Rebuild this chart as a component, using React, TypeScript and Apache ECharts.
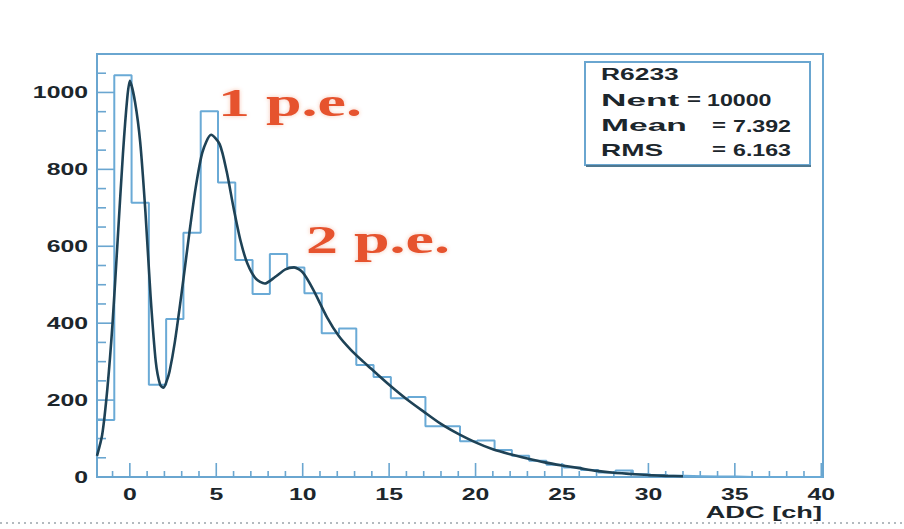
import React, { useEffect, useRef } from "react";
import * as echarts from "echarts";

// Axis ranges
const X_MIN = -1.9;
const X_MAX = 40.1;
const Y_MIN = 0;
const Y_MAX = 1100;

// Histogram: 42 bins of width 1 starting at -1.9
const binLow = -1.9;
const binWidth = 1;
const binCounts = [
  148, 1045, 713, 240, 411, 635, 951, 766, 564, 476, 580, 545, 478, 374, 386,
  291, 260, 205, 208, 132, 132, 93, 95, 70, 55, 42, 32, 25, 18, 12, 17, 7, 5, 3,
  2, 1, 1, 0, 0, 0, 0, 0,
];

// Fitted response function (ADC channel, entries)
const fitX = [
  -1.9, -1.6, -1.3, -1.0, -0.7, -0.4, -0.15, 0.0, 0.3, 0.6, 0.9, 1.2, 1.5, 1.75,
  1.95, 2.15, 2.3, 2.6, 3.0, 3.4, 3.8, 4.2, 4.7, 5.2, 5.6, 6.0, 6.4, 6.8, 7.3,
  7.8, 8.4, 9.0, 9.5, 10.0, 10.6, 11.4, 12.1, 12.8, 13.5, 14.0, 15.0, 16.0,
  17.0, 18.0, 19.0, 20.0, 21.0, 22.0, 23.0, 24.0, 25.0, 26.0, 27.0, 28.0, 29.0,
  30.0, 31.0, 32.0,
];
const fitY = [
  55, 110, 230, 400, 620, 840, 985, 1030, 975, 870, 690, 470, 300, 240, 232, 252,
  275, 350, 480, 620, 750, 845, 890, 865, 795, 700, 615, 555, 515, 503, 520, 540,
  545, 532, 488, 416, 366, 330, 300, 280, 240, 203, 170, 138, 112, 90, 72, 59,
  48, 38, 30, 23, 16, 11, 8, 5, 3, 2,
];

// Tick marks
const xMajorTicks = [0, 5, 10, 15, 20, 25, 30, 35, 40];
const xMinorTicks = [
  -1, 1, 2, 3, 4, 6, 7, 8, 9, 11, 12, 13, 14, 16, 17, 18, 19, 21, 22, 23, 24, 26,
  27, 28, 29, 31, 32, 33, 34, 36, 37, 38, 39,
];
const yMajorTicks = [0, 200, 400, 600, 800, 1000];
const yMinorTicks = [
  50, 100, 150, 250, 300, 350, 450, 500, 550, 650, 700, 750, 850, 900, 950, 1050,
];

// Statistics box
const statTitle = "R6233";
const statRows = [
  { name: "Nent", eq: "=", value: "10000" },
  { name: "Mean", eq: "=", value: "7.392" },
  { name: "RMS", eq: "=", value: "6.163" },
];

const peakLabels = ["1 p.e.", "2 p.e."];
const xTitle = "ADC [ch]";

const FRAME = "#6aa6d0";
const TEXT = "#1c262c";
const RED = "#e6532d";
const SANS = "'Liberation Sans', Arial, sans-serif";
const SERIF = "'Liberation Serif', 'Times New Roman', serif";
const STRETCH = 1.55;

export default function App() {
  const ref = useRef<HTMLDivElement>(null);

  useEffect(() => {
    if (!ref.current) return;
    const chart = echarts.init(ref.current, null, { renderer: "svg" });

    const histData: number[][] = binCounts.map((c, i) => [binLow + i * binWidth, c]);
    histData.push([binLow + binCounts.length * binWidth, binCounts[binCounts.length - 1]]);
    const fitData = fitX.map((x, i) => [x, fitY[i]]);

    const tickSeries = (
      data: number[][],
      axis: "x" | "y",
      len: number,
      withLabel: boolean
    ) => ({
      type: "custom",
      silent: true,
      z: 1,
      data,
      renderItem: (_p: any, api: any) => {
        const v = api.value(axis === "x" ? 0 : 1);
        const pt = api.coord(axis === "x" ? [v, Y_MIN] : [X_MIN, v]);
        const children: any[] = [
          {
            type: "line",
            shape:
              axis === "x"
                ? { x1: pt[0], y1: pt[1], x2: pt[0], y2: pt[1] - len }
                : { x1: pt[0], y1: pt[1], x2: pt[0] + len, y2: pt[1] },
            style: { stroke: FRAME, lineWidth: 1.6 },
          },
        ];
        if (withLabel) {
          children.push({
            type: "text",
            x: axis === "x" ? pt[0] : pt[0] - 9,
            y: axis === "x" ? pt[1] + 17 : pt[1],
            scaleX: STRETCH,
            style: {
              text: String(v),
              align: axis === "x" ? "center" : "right",
              verticalAlign: "middle",
              fontFamily: SANS,
              fontWeight: "bold",
              fontSize: 16,
              fill: TEXT,
            },
          });
        }
        return { type: "group", children };
      },
    });

    const statX = 601;
    const statLineY = [100, 126, 150];
    const nameStretch = [2.2, 2.1, 1.75];
    const eqX = [687, 712, 712];
    const valX = [707, 733, 733];

    const graphics: any[] = [
      {
        type: "rect",
        shape: { x: 585, y: 62, width: 225, height: 103 },
        style: { fill: "#ffffff", stroke: FRAME, lineWidth: 2 },
        z: 10,
      },
      {
        type: "line",
        shape: { x1: 586, y1: 166, x2: 811, y2: 166 },
        style: { stroke: "#4f7890", lineWidth: 2 },
        z: 10,
      },
      {
        type: "text",
        x: statX,
        y: 75,
        scaleX: 1.65,
        style: {
          text: statTitle,
          verticalAlign: "middle",
          fontFamily: SANS,
          fontWeight: "bold",
          fontSize: 16,
          fill: TEXT,
        },
        z: 11,
      },
      {
        type: "text",
        x: 822,
        y: 513,
        scaleX: 1.7,
        style: {
          text: xTitle,
          align: "right",
          verticalAlign: "middle",
          fontFamily: SANS,
          fontWeight: "bold",
          fontSize: 16,
          fill: TEXT,
        },
        z: 11,
      },
      {
        type: "text",
        x: 218,
        y: 103,
        scaleX: 1.6,
        style: {
          text: peakLabels[0],
          verticalAlign: "middle",
          fontFamily: SERIF,
          fontWeight: "bold",
          fontSize: 40,
          fill: RED,
          textShadowColor: "rgba(230,83,45,0.35)",
          textShadowBlur: 4,
        },
        z: 11,
      },
      {
        type: "text",
        x: 306,
        y: 240,
        scaleX: 1.6,
        style: {
          text: peakLabels[1],
          verticalAlign: "middle",
          fontFamily: SERIF,
          fontWeight: "bold",
          fontSize: 40,
          fill: RED,
          textShadowColor: "rgba(230,83,45,0.35)",
          textShadowBlur: 4,
        },
        z: 11,
      },
      {
        type: "line",
        shape: { x1: 0, y1: 523, x2: 904, y2: 523 },
        style: { stroke: "#9aa4aa", lineWidth: 1.5, lineDash: [2, 4] },
        z: 0,
      },
    ];

    statRows.forEach((row, i) => {
      const common = {
        verticalAlign: "middle",
        fontFamily: SANS,
        fontWeight: "bold",
        fontSize: 16,
        fill: TEXT,
      };
      graphics.push(
        { type: "text", x: statX, y: statLineY[i], scaleX: nameStretch[i], style: { ...common, text: row.name }, z: 11 },
        { type: "text", x: eqX[i], y: statLineY[i], scaleX: 1.5, style: { ...common, text: row.eq }, z: 11 },
        { type: "text", x: valX[i], y: statLineY[i], scaleX: 1.45, style: { ...common, text: row.value }, z: 11 }
      );
    });

    chart.setOption({
      animation: false,
      backgroundColor: "#ffffff",
      grid: {
        left: 97,
        top: 54,
        width: 726,
        height: 423,
        show: true,
        borderColor: FRAME,
        borderWidth: 2,
        backgroundColor: "transparent",
      },
      xAxis: {
        type: "value",
        min: X_MIN,
        max: X_MAX,
        axisLine: { show: false },
        axisTick: { show: false },
        axisLabel: { show: false },
        splitLine: { show: false },
      },
      yAxis: {
        type: "value",
        min: Y_MIN,
        max: Y_MAX,
        axisLine: { show: false },
        axisTick: { show: false },
        axisLabel: { show: false },
        splitLine: { show: false },
      },
      series: [
        tickSeries(xMajorTicks.map((v) => [v, Y_MIN]), "x", 14, true),
        tickSeries(xMinorTicks.map((v) => [v, Y_MIN]), "x", 6, false),
        tickSeries(yMajorTicks.map((v) => [X_MIN, v]), "y", 17, true),
        tickSeries(yMinorTicks.map((v) => [X_MIN, v]), "y", 9, false),
        {
          type: "line",
          data: histData,
          step: "end",
          showSymbol: false,
          silent: true,
          z: 2,
          lineStyle: { color: "#6aaad6", width: 2 },
        },
        {
          type: "line",
          data: fitData,
          smooth: 0.25,
          showSymbol: false,
          silent: true,
          z: 3,
          lineStyle: { color: "#1e4256", width: 2.6 },
        },
      ],
      graphic: graphics,
    });

    return () => chart.dispose();
  }, []);

  return (
    <div
      ref={ref}
      style={{ position: "fixed", left: 0, top: 0, width: 904, height: 529 }}
    />
  );
}
